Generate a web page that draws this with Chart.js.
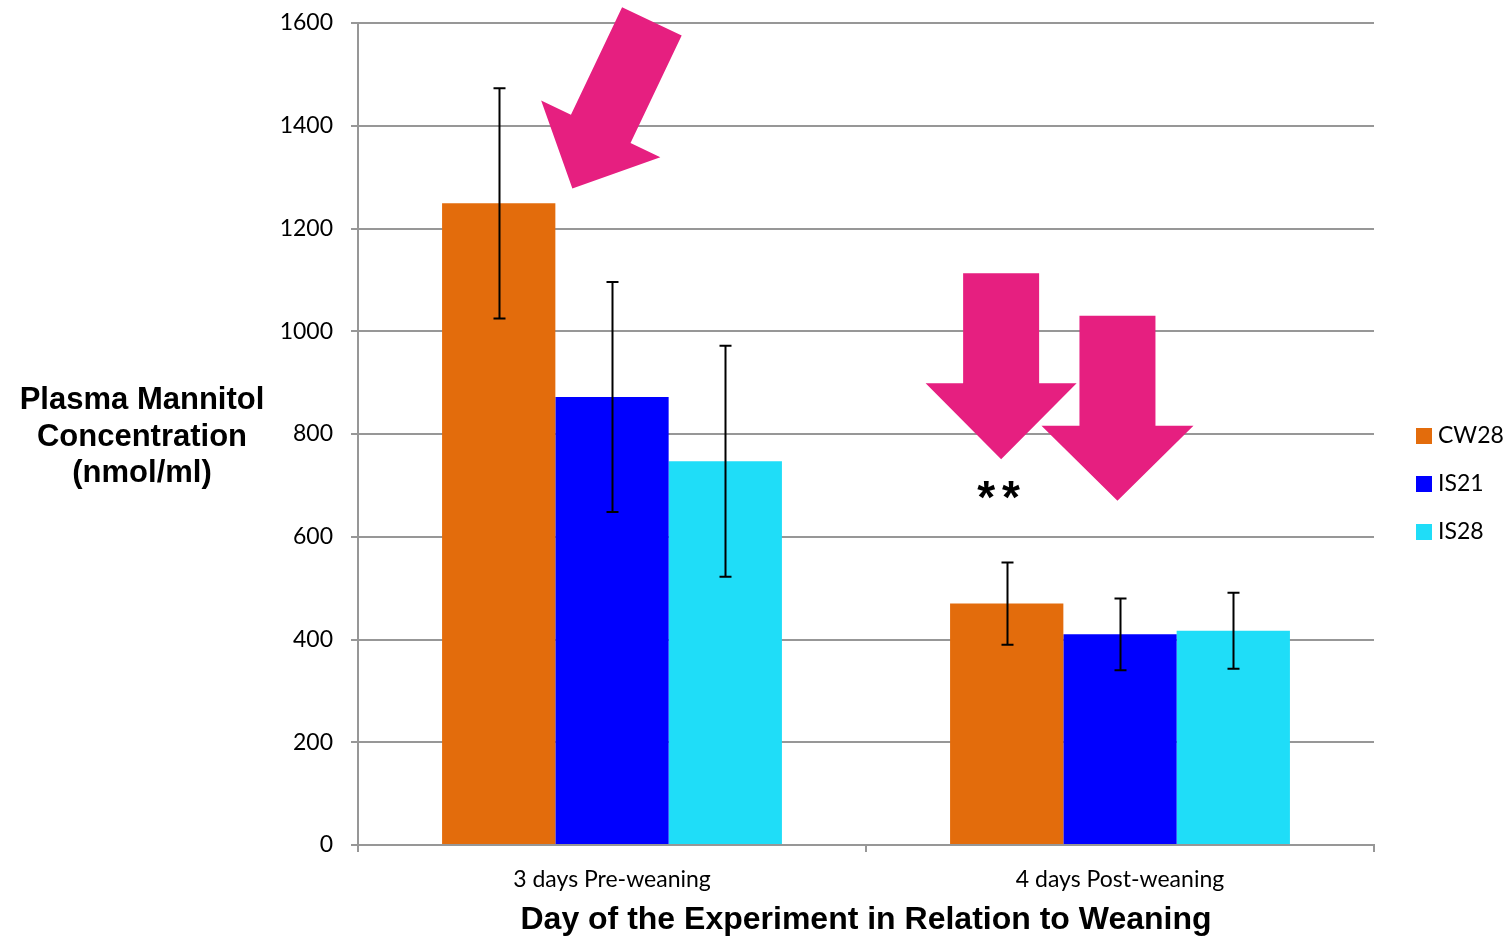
<!DOCTYPE html>
<html>
<head>
<meta charset="utf-8">
<script src="https://cdn.jsdelivr.net/npm/chart.js@4.4.1/dist/chart.umd.min.js"></script>
<style>
  html, body { margin: 0; padding: 0; background: #ffffff; }
  #wrap { width: 1509px; height: 939px; }
</style>
</head>
<body>
<div id="wrap"><canvas id="chart" width="1509" height="939"></canvas></div>
<script>
// Plasma mannitol by weaning group (nmol/ml), mean and error
const categories = ['3 days Pre-weaning', '4 days Post-weaning'];
const seriesNames = ['CW28', 'IS21', 'IS28'];
const cw28 = [1249, 470];
const is21 = [872, 410];
const is28 = [747, 417];
const cw28Err = [224, 80];
const is21Err = [224, 70];
const is28Err = [225, 74];
const yTicks = [0, 200, 400, 600, 800, 1000, 1200, 1400, 1600];

const colors = ['#E36C0C', '#0000FF', '#1FDDF8'];
const gridGray = '#979797';
const tickFont = { family: 'Lato', size: 23 };
const boldFont = 'Liberation Sans';

// highlight arrows: tip anchored to (category index + fraction of category width, value)
const arrows = [
  { cat: 0, frac: -0.078, value: 1278, angle: Math.atan2(167.45, -79.7), length: 185, shaft: 66, head: 132, headLen: 66 },
  { cat: 1, frac: -0.234, value: 751, angle: Math.PI / 2, length: 186, shaft: 76, head: 151, headLen: 76 },
  { cat: 1, frac: -0.005, value: 670, angle: Math.PI / 2, length: 185, shaft: 76, head: 152, headLen: 75 }
];
const significance = { text: '**', cat: 1, frac: -0.238, value: 690 };

const errorBarPlugin = {
  id: 'errorBars',
  afterDatasetsDraw(chart) {
    const ctx = chart.ctx;
    const y = chart.scales.y;
    ctx.save();
    ctx.strokeStyle = '#000000';
    ctx.lineWidth = 2;
    chart.data.datasets.forEach((ds, di) => {
      const meta = chart.getDatasetMeta(di);
      meta.data.forEach((bar, i) => {
        const v = ds.data[i], e = ds.errors[i];
        const x = Math.round(bar.x) + 0.5;
        const yTop = y.getPixelForValue(v + e);
        const yBot = y.getPixelForValue(v - e);
        ctx.beginPath();
        ctx.moveTo(x, yTop); ctx.lineTo(x, yBot);
        ctx.moveTo(x - 6, yTop); ctx.lineTo(x + 6, yTop);
        ctx.moveTo(x - 6, yBot); ctx.lineTo(x + 6, yBot);
        ctx.stroke();
      });
    });
    ctx.restore();
  }
};

const annotationPlugin = {
  id: 'arrowsAndMarks',
  afterDatasetsDraw(chart) {
    const ctx = chart.ctx;
    const xs = chart.scales.x, ys = chart.scales.y;
    const catW = xs.getPixelForValue(1) - xs.getPixelForValue(0);
    ctx.save();
    ctx.fillStyle = '#E61F80';
    arrows.forEach(a => {
      const tx = xs.getPixelForValue(a.cat) + a.frac * catW;
      const ty = ys.getPixelForValue(a.value);
      ctx.save();
      ctx.translate(tx, ty);
      ctx.rotate(a.angle - Math.PI / 2);
      // local frame: tip at origin, arrow points toward +y
      const L = a.length, s = a.shaft / 2, h = a.head / 2, hl = a.headLen;
      ctx.beginPath();
      ctx.moveTo(0, 0);
      ctx.lineTo(h, -hl);
      ctx.lineTo(s, -hl);
      ctx.lineTo(s, -L);
      ctx.lineTo(-s, -L);
      ctx.lineTo(-s, -hl);
      ctx.lineTo(-h, -hl);
      ctx.closePath();
      ctx.fill();
      ctx.restore();
    });
    // significance stars, centred on the anchor
    const sx = xs.getPixelForValue(significance.cat) + significance.frac * catW;
    const sy = ys.getPixelForValue(significance.value);
    ctx.fillStyle = '#000000';
    ctx.font = 'bold 46px "' + boldFont + '"';
    ctx.letterSpacing = '7px';
    ctx.textAlign = 'center';
    ctx.textBaseline = 'alphabetic';
    ctx.fillText(significance.text, sx + 3, sy + 22);
    ctx.restore();
  }
};

const sideTextPlugin = {
  id: 'sideText',
  afterDraw(chart) {
    const ctx = chart.ctx;
    const area = chart.chartArea;
    const midY = (area.top + area.bottom) / 2;
    ctx.save();
    // y-axis title, horizontal, three lines
    ctx.fillStyle = '#000000';
    ctx.font = 'bold 31px "' + boldFont + '"';
    ctx.textAlign = 'center';
    ctx.textBaseline = 'middle';
    const lines = ['Plasma Mannitol', 'Concentration', '(nmol/ml)'];
    lines.forEach((t, i) => ctx.fillText(t, 142, midY - 33.5 + i * 36.5));
    // legend
    ctx.font = '23px Lato';
    ctx.textAlign = 'left';
    chart.data.datasets.forEach((ds, i) => {
      const cy = midY + 2 + i * 48;
      ctx.fillStyle = ds.backgroundColor;
      ctx.fillRect(area.right + 42, cy - 8, 16, 16);
      ctx.fillStyle = '#000000';
      ctx.fillText(ds.label, area.right + 64, cy);
    });
    ctx.restore();
  }
};

const seriesValues = [cw28, is21, is28];
const seriesErrors = [cw28Err, is21Err, is28Err];

new Chart(document.getElementById('chart'), {
  type: 'bar',
  data: {
    labels: categories,
    datasets: seriesNames.map((name, i) => ({
      label: name,
      data: seriesValues[i],
      errors: seriesErrors[i],
      backgroundColor: colors[i],
      borderWidth: 0,
      barPercentage: 1.0,
      categoryPercentage: 0.669
    }))
  },
  options: {
    responsive: false,
    animation: false,
    layout: { padding: { top: 23, right: 135, left: 0, bottom: 0 } },
    plugins: {
      legend: { display: false },
      tooltip: { enabled: false }
    },
    scales: {
      x: {
        grid: { offset: true, drawOnChartArea: false, drawTicks: true, tickLength: 7, color: gridGray, lineWidth: 2 },
        border: { display: true, color: gridGray, width: 2 },
        ticks: { font: tickFont, color: '#000000', padding: 14, maxRotation: 0 },
        title: {
          display: true,
          text: 'Day of the Experiment in Relation to Weaning',
          font: { family: boldFont, size: 32, weight: 'bold' },
          color: '#000000',
          padding: { top: 0, bottom: 0 }
        },
        afterFit(scale) { scale.height = 94; scale.paddingLeft = 0; scale.paddingRight = 0; }
      },
      y: {
        min: 0,
        max: 1600,
        afterBuildTicks(scale) { scale.ticks = yTicks.map(v => ({ value: v })); },
        grid: { color: gridGray, lineWidth: 2, drawTicks: true, tickLength: 7 },
        border: { display: true, color: gridGray, width: 2 },
        ticks: { font: tickFont, color: '#000000', padding: 18, callback: v => String(v) },
        afterFit(scale) { scale.width = 358; scale.paddingTop = 0; scale.paddingBottom = 0; }
      }
    }
  },
  plugins: [errorBarPlugin, annotationPlugin, sideTextPlugin]
});
</script>
</body>
</html>
